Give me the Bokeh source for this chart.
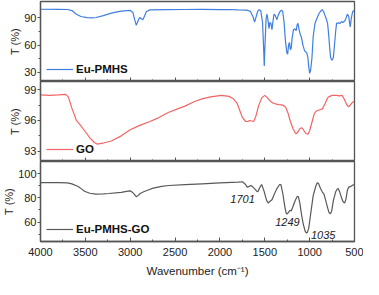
from bokeh.plotting import figure
from bokeh.models import Range1d, FixedTicker, Label, Legend, LegendItem, LinearAxis
from bokeh.layouts import column
from bokeh.embed import file_html
from bokeh.resources import INLINE

# ---------------- data ----------------
x_ticks = [500, 1000, 1500, 2000, 2500, 3000, 3500, 4000]
x_minor = [750, 1250, 1750, 2250, 2750, 3250, 3750]

eu_w = [4000, 3800, 3700, 3650, 3600, 3550, 3480, 3430, 3380, 3300, 3200, 3100, 3000, 2970, 2950, 2933,
        2915, 2895, 2875, 2860, 2840, 2820, 2780, 2600, 2400, 2200, 2000, 1900, 1800, 1700, 1660, 1630,
        1613, 1600, 1580, 1565, 1545, 1525, 1512, 1506, 1498, 1485, 1475, 1465, 1453, 1443, 1432, 1420,
        1410, 1398, 1385, 1365, 1350, 1330, 1315, 1300, 1285, 1270, 1255, 1245, 1235, 1225, 1215, 1205,
        1195, 1180, 1165, 1150, 1140, 1130, 1120, 1105, 1090, 1075, 1060, 1050, 1035, 1020, 1010, 1000,
        990, 975, 960, 940, 920, 900, 880, 860, 845, 830, 815, 800, 790, 775, 765, 755, 745, 735, 725,
        710, 700, 680, 660, 645, 630, 615, 600, 580, 565, 548, 535, 520, 500]
eu_t = [99.5, 99.4, 99.2, 98.0, 94.0, 91.5, 90.3, 90.0, 90.4, 92.5, 95.5, 97.5, 98.2, 96.0, 88.0, 82.0,
        86.0, 90.5, 89.0, 88.0, 92.0, 97.0, 98.8, 99.0, 99.2, 99.3, 99.0, 99.2, 98.8, 98.5, 97.0, 91.0,
        85.5, 90.0, 97.0, 99.0, 98.0, 85.0, 55.0, 37.0, 60.0, 90.0, 94.0, 88.0, 78.0, 85.0, 84.0, 77.0,
        85.0, 94.0, 93.0, 88.0, 93.0, 97.0, 98.5, 97.0, 85.0, 65.0, 52.0, 50.0, 60.0, 63.0, 55.0, 57.0,
        68.0, 77.0, 78.0, 76.0, 82.0, 84.0, 78.0, 72.0, 68.0, 60.0, 55.0, 53.0, 52.0, 47.0, 36.0, 29.0,
        32.0, 45.0, 70.0, 84.0, 89.0, 94.0, 97.0, 99.0, 97.0, 93.0, 89.0, 84.0, 74.0, 55.0, 46.0, 43.5,
        44.0, 47.0, 58.0, 75.0, 84.0, 84.5, 84.0, 86.0, 85.0, 86.0, 88.0, 94.0, 92.0, 80.0, 90.0, 97.0, 98.5]

go_w = [4000, 3900, 3800, 3720, 3690, 3650, 3600, 3560, 3500, 3450, 3400, 3370, 3300, 3210, 3100, 3000,
        2900, 2780, 2700, 2570, 2450, 2390, 2282, 2200, 2104, 1983, 1900, 1855, 1810, 1784, 1750, 1713,
        1690, 1670, 1645, 1623, 1600, 1570, 1535, 1500, 1470, 1440, 1410, 1370, 1340, 1300, 1268, 1240,
        1215, 1185, 1160, 1150, 1130, 1110, 1090, 1070, 1045, 1019, 1000, 975, 950, 930, 900, 870, 860,
        830, 800, 788, 750, 700, 670, 638, 615, 590, 570, 556, 530, 500]
go_t = [98.5, 98.45, 98.5, 98.55, 98.3, 97.2, 96.0, 95.6, 94.9, 94.3, 93.85, 93.7, 93.8, 94.0, 94.5, 95.1,
        95.5, 95.9, 96.2, 96.8, 97.2, 97.4, 97.85, 98.1, 98.3, 98.45, 98.35, 98.15, 97.7, 97.1, 96.3, 95.9,
        95.9, 96.0, 95.95, 95.9, 96.4, 97.4, 98.2, 98.45, 98.2, 97.9, 97.7, 97.6, 97.55, 97.5, 97.3, 96.7,
        95.9, 95.2, 94.8, 94.7, 94.9, 95.2, 95.3, 95.1, 94.75, 94.65, 95.0, 95.8, 96.6, 96.9, 97.0, 97.1, 97.1,
        97.6, 98.2, 98.3, 98.45, 98.45, 98.4, 98.45, 98.1, 97.6, 97.35, 97.4, 97.7, 97.9]

eg_w = [4000, 3800, 3700, 3650, 3580, 3540, 3510, 3450, 3384, 3300, 3240, 3100, 3010, 2990, 2960, 2933,
        2910, 2890, 2850, 2800, 2744, 2650, 2570, 2390, 2200, 2000, 1800, 1749, 1720, 1695, 1675, 1652,
        1620, 1590, 1577, 1560, 1535, 1510, 1480, 1463, 1445, 1420, 1400, 1370, 1335, 1320, 1300, 1275,
        1260, 1250, 1235, 1220, 1204, 1190, 1160, 1140, 1126, 1110, 1090, 1070, 1050, 1037, 1025, 1010,
        990, 960, 930, 915, 902, 880, 860, 840, 825, 800, 785, 770, 755, 735, 710, 690, 681, 665, 640,
        625, 610, 595, 580, 564, 540, 520, 500]
eg_t = [92.5, 92.5, 92.4, 91.5, 89.4, 87.2, 85.5, 83.8, 83.1, 83.3, 83.6, 84.5, 85.7, 85.5, 83.5, 81.0,
        82.0, 83.6, 85.0, 86.5, 88.0, 89.5, 90.2, 91.0, 91.6, 92.3, 93.0, 93.3, 91.5, 88.9, 89.5, 90.2,
        88.0, 85.5, 85.0, 88.0, 91.0, 86.0, 78.0, 75.8, 77.0, 78.4, 82.0, 87.0, 91.0, 91.0, 84.0, 72.0,
        67.0, 66.7, 68.0, 69.8, 69.3, 72.0, 78.0, 81.0, 81.0, 76.0, 66.0, 58.0, 52.5, 51.0, 51.5, 55.0,
        66.0, 82.0, 90.0, 92.5, 92.0, 88.0, 85.0, 83.0, 79.0, 72.0, 68.0, 66.7, 69.0, 78.0, 85.0, 87.5,
        87.6, 85.0, 79.0, 76.5, 75.8, 79.0, 86.0, 88.9, 89.5, 90.5, 91.0]

series_names = ["Eu-PMHS", "GO", "Eu-PMHS-GO"]
series_colors = ["#3f7fe0", "#f26464", "#595959"]
y_limits = [(20, 108), (92, 99.8), (44, 110)]
y_major = [[30, 60, 90], [93, 96, 99], [60, 80, 100]]
y_minor = [[45, 75], [94.5, 97.5], [50, 70, 90]]
y_title = "T (%)"

peak_labels = ["1701", "1249", "1035"]
peak_w = [1748, 1247, 849]
peak_t = [79.2, 60.4, 49.4]

# ---------------- plotting ----------------
FONT = "Liberation Sans"
AX = "#555555"
x_range = Range1d(4000, 500)
data = [(eu_w, eu_t), (go_w, go_t), (eg_w, eg_t)]
frame_h = 80
figs = []


def style_x(ax, major, minor, tin):
    ax.ticker = FixedTicker(ticks=major, minor_ticks=minor)
    ax.major_tick_in = 4
    ax.major_tick_out = 0
    ax.minor_tick_in = tin
    ax.minor_tick_out = 0
    ax.axis_line_color = AX
    ax.axis_line_width = 1.3
    ax.major_tick_line_color = AX
    ax.minor_tick_line_color = AX
    ax.major_label_standoff = 0


for i in range(3):
    last = i == 2
    p = figure(width=363, height=(frame_h + 1) if i == 0 else (frame_h + 38 if last else frame_h),
               x_range=x_range, y_range=Range1d(*y_limits[i]),
               output_backend="svg", toolbar_location=None,
               x_axis_location="below" if last else None,
               min_border_left=36, min_border_right=9,
               min_border_top=1 if i == 0 else 0, min_border_bottom=38 if last else 0)
    p.grid.visible = False
    p.outline_line_color = AX
    p.outline_line_width = 1.3
    p.background_fill_color = "white"

    w, t = data[i]
    r = p.line(w, t, line_color=series_colors[i], line_width=1.2)
    leg = Legend(items=[LegendItem(label=series_names[i], renderers=[r])], location="bottom_left")
    leg.margin = 2
    leg.padding = 4
    leg.border_line_alpha = 0
    leg.background_fill_alpha = 0
    leg.glyph_width = 27
    leg.glyph_height = 12
    leg.label_standoff = 3
    leg.label_text_font = FONT
    leg.label_text_font_style = "bold"
    leg.label_text_font_size = "11.5px"
    leg.label_text_color = "#111111"
    p.add_layout(leg)

    if last:
        xa = p.xaxis[0]
        style_x(xa, x_ticks, x_minor, 2)
        xa.major_label_text_font = FONT
        xa.major_label_text_font_size = "11px"
        xa.major_label_text_color = "#222222"
        xa.major_label_standoff = 6
        xa.axis_label = "Wavenumber (cm\u207b\u00b9)"
        xa.axis_label_text_font = FONT
        xa.axis_label_text_font_style = "normal"
        xa.axis_label_text_font_size = "11.5px"
        xa.axis_label_text_color = "#222222"
        xa.axis_label_standoff = 6
    else:
        # tick marks only (no labels) on the shared boundary
        a1 = LinearAxis()
        style_x(a1, [], x_ticks, 4)
        a2 = LinearAxis()
        style_x(a2, [], x_minor, 2)
        p.add_layout(a1, "below")
        p.add_layout(a2, "below")

    ya = p.yaxis[0]
    ya.ticker = FixedTicker(ticks=y_major[i], minor_ticks=y_minor[i])
    ya.major_tick_in = 0
    ya.major_tick_out = 3
    ya.minor_tick_in = 0
    ya.minor_tick_out = 2
    ya.axis_line_color = AX
    ya.axis_line_width = 1.3
    ya.major_tick_line_color = AX
    ya.minor_tick_line_color = AX
    ya.major_label_text_font = FONT
    ya.major_label_text_font_size = "11px"
    ya.major_label_text_color = "#222222"
    ya.major_label_standoff = 1
    ya.axis_label = y_title
    ya.axis_label_text_font = FONT
    ya.axis_label_text_font_style = "normal"
    ya.axis_label_text_font_size = "11px"
    ya.axis_label_text_color = "#222222"
    ya.axis_label_standoff = 0

    if last:
        for k in range(len(peak_labels)):
            p.add_layout(Label(x=peak_w[k], y=peak_t[k], text=peak_labels[k], text_align="center",
                               text_baseline="middle", text_font=FONT, text_font_style="italic",
                               text_font_size="11px", text_color="#222222"))
    figs.append(p)

layout = column(*figs, spacing=0)
open("out.html", "w").write(file_html(layout, INLINE))
